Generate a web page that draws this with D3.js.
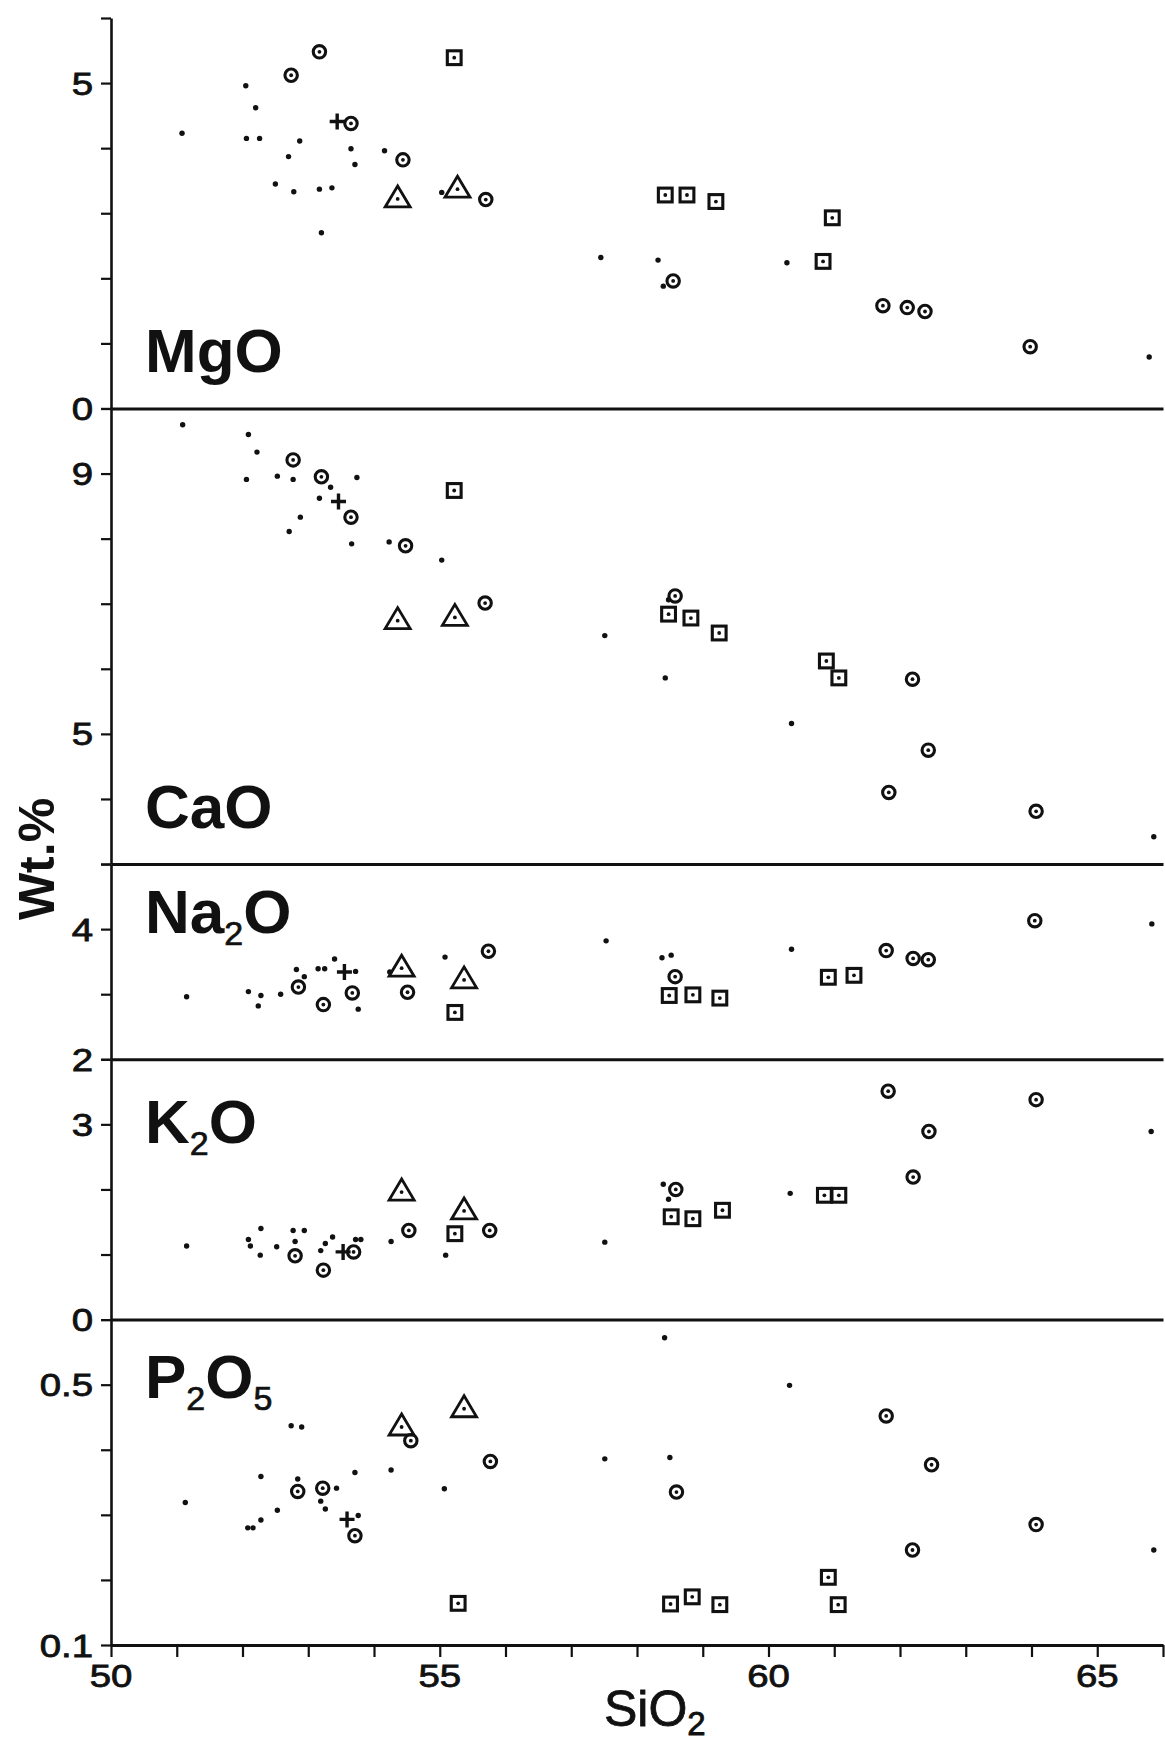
<!DOCTYPE html>
<html>
<head>
<meta charset="utf-8">
<script src="https://cdnjs.cloudflare.com/ajax/libs/d3/7.8.5/d3.min.js"></script>
<style>
  body { margin: 0; background: #fff; }
  svg { display: block; font-family: 'Liberation Sans', Arial, Helvetica, sans-serif; }
</style>
</head>
<body>
<svg id="chart" width="1165" height="1742"></svg>
<script>
// SiO2 axis
const sio2Domain = [50, 66]
const sio2Labels = [50, 55, 60, 65]

// oxide panels, top to bottom
const oxides = ['MgO', 'CaO', 'Na2O', 'K2O', 'P2O5']
const oxideDomains = [[0, 6], [3, 10], [2, 5], [0, 4], [0.1, 0.6]]
const oxideSteps = [1, 1, 1, 1, 0.1]
const oxideLabels = [[0, 5], [5, 9], [2, 4], [0, 3], [0.1, 0.5]]

// samples per panel: [SiO2, oxide wt.%, symbol]
const mgo = [
  [51.08, 4.23, 'dot'], [52.05, 4.96, 'dot'], [52.2, 4.62, 'dot'], [52.06, 4.15, 'dot'],
  [52.26, 4.15, 'dot'], [52.87, 4.11, 'dot'], [52.7, 3.87, 'dot'], [52.5, 3.45, 'dot'],
  [52.78, 3.33, 'dot'], [53.17, 3.37, 'dot'], [53.36, 3.39, 'dot'], [53.2, 2.7, 'dot'],
  [53.65, 3.99, 'dot'], [53.71, 3.75, 'dot'], [54.16, 3.96, 'dot'], [55.03, 3.32, 'dot'],
  [57.45, 2.32, 'dot'], [58.32, 2.28, 'dot'], [60.28, 2.24, 'dot'], [58.4, 1.88, 'dot'],
  [65.79, 0.79, 'dot'],
  [53.17, 5.48, 'circle'], [52.74, 5.12, 'circle'], [53.65, 4.38, 'circle'], [54.44, 3.82, 'circle'],
  [55.7, 3.21, 'circle'], [58.55, 1.96, 'circle'], [61.74, 1.58, 'circle'], [62.11, 1.55, 'circle'],
  [62.38, 1.49, 'circle'], [63.98, 0.95, 'circle'],
  [55.22, 5.39, 'square'], [58.43, 3.28, 'square'], [58.76, 3.28, 'square'], [59.2, 3.18, 'square'],
  [60.97, 2.93, 'square'], [60.83, 2.26, 'square'],
  [54.36, 3.22, 'triangle'], [55.27, 3.37, 'triangle'],
  [53.44, 4.41, 'plus'],
]
const cao = [
  [51.09, 9.75, 'dot'], [52.09, 9.6, 'dot'], [52.22, 9.33, 'dot'], [52.06, 8.91, 'dot'],
  [52.53, 8.96, 'dot'], [52.77, 8.91, 'dot'], [53.34, 8.79, 'dot'], [53.17, 8.62, 'dot'],
  [52.88, 8.33, 'dot'], [52.71, 8.11, 'dot'], [53.74, 8.94, 'dot'], [53.66, 7.92, 'dot'],
  [54.23, 7.95, 'dot'], [55.03, 7.67, 'dot'], [58.48, 7.06, 'dot'], [57.51, 6.51, 'dot'],
  [58.43, 5.86, 'dot'], [60.35, 5.16, 'dot'], [65.86, 3.42, 'dot'],
  [52.77, 9.21, 'circle'], [53.2, 8.95, 'circle'], [53.65, 8.33, 'circle'], [54.48, 7.89, 'circle'],
  [55.69, 7.01, 'circle'], [58.58, 7.12, 'circle'], [62.19, 5.84, 'circle'], [62.43, 4.75, 'circle'],
  [61.83, 4.1, 'circle'], [64.07, 3.81, 'circle'],
  [55.22, 8.74, 'square'], [58.48, 6.84, 'square'], [58.82, 6.78, 'square'], [59.25, 6.55, 'square'],
  [60.88, 6.12, 'square'], [61.07, 5.86, 'square'],
  [54.36, 6.74, 'triangle'], [55.23, 6.79, 'triangle'],
  [53.46, 8.57, 'plus'],
]
const na2o = [
  [51.15, 2.96, 'dot'], [52.09, 3.04, 'dot'], [52.28, 2.98, 'dot'], [52.24, 2.82, 'dot'],
  [52.58, 3.0, 'dot'], [52.82, 3.38, 'dot'], [52.94, 3.27, 'dot'], [53.15, 3.39, 'dot'],
  [53.25, 3.39, 'dot'], [53.4, 3.54, 'dot'], [53.72, 3.35, 'dot'], [53.76, 2.77, 'dot'],
  [54.24, 3.34, 'dot'], [55.08, 3.57, 'dot'], [57.53, 3.82, 'dot'], [58.38, 3.56, 'dot'],
  [58.52, 3.6, 'dot'], [60.35, 3.69, 'dot'], [65.83, 4.08, 'dot'],
  [52.85, 3.11, 'circle'], [53.23, 2.84, 'circle'], [53.67, 3.02, 'circle'], [54.51, 3.03, 'circle'],
  [55.74, 3.66, 'circle'], [58.58, 3.27, 'circle'], [61.79, 3.67, 'circle'], [62.2, 3.55, 'circle'],
  [62.43, 3.53, 'circle'], [64.05, 4.13, 'circle'],
  [55.23, 2.72, 'square'], [58.49, 2.98, 'square'], [58.85, 2.99, 'square'], [59.26, 2.94, 'square'],
  [60.91, 3.26, 'square'], [61.3, 3.29, 'square'],
  [54.42, 3.4, 'triangle'], [55.37, 3.22, 'triangle'],
  [53.55, 3.34, 'plus'],
]
const k2o = [
  [51.15, 1.13, 'dot'], [52.09, 1.23, 'dot'], [52.12, 1.13, 'dot'], [52.28, 1.4, 'dot'],
  [52.27, 0.99, 'dot'], [52.52, 1.12, 'dot'], [52.77, 1.37, 'dot'], [52.94, 1.37, 'dot'],
  [52.8, 1.2, 'dot'], [53.19, 1.06, 'dot'], [53.26, 1.17, 'dot'], [53.37, 1.27, 'dot'],
  [53.72, 1.23, 'dot'], [53.8, 1.23, 'dot'], [54.26, 1.2, 'dot'], [55.09, 0.99, 'dot'],
  [57.51, 1.19, 'dot'], [58.4, 2.08, 'dot'], [58.48, 1.85, 'dot'], [60.33, 1.94, 'dot'],
  [65.82, 2.89, 'dot'],
  [52.8, 0.98, 'circle'], [53.23, 0.76, 'circle'], [53.69, 1.04, 'circle'], [54.53, 1.37, 'circle'],
  [55.76, 1.37, 'circle'], [58.59, 2.0, 'circle'], [61.82, 3.51, 'circle'], [64.07, 3.38, 'circle'],
  [62.44, 2.89, 'circle'], [62.2, 2.19, 'circle'],
  [55.23, 1.32, 'square'], [58.52, 1.58, 'square'], [58.85, 1.55, 'square'], [59.3, 1.68, 'square'],
  [60.85, 1.91, 'square'], [61.07, 1.91, 'square'],
  [54.42, 1.96, 'triangle'], [55.37, 1.67, 'triangle'],
  [53.53, 1.04, 'plus'],
]
const p2o5 = [
  [51.13, 0.319, 'dot'], [52.28, 0.359, 'dot'], [52.53, 0.307, 'dot'], [52.28, 0.292, 'dot'],
  [52.08, 0.28, 'dot'], [52.16, 0.28, 'dot'], [52.74, 0.437, 'dot'], [52.9, 0.435, 'dot'],
  [52.84, 0.355, 'dot'], [53.19, 0.321, 'dot'], [53.26, 0.309, 'dot'], [53.43, 0.341, 'dot'],
  [53.76, 0.299, 'dot'], [53.71, 0.365, 'dot'], [54.26, 0.369, 'dot'], [55.07, 0.34, 'dot'],
  [58.42, 0.572, 'dot'], [60.32, 0.499, 'dot'], [57.51, 0.386, 'dot'], [58.5, 0.388, 'dot'],
  [65.86, 0.246, 'dot'],
  [52.84, 0.336, 'circle'], [53.22, 0.341, 'circle'], [53.71, 0.268, 'circle'], [54.56, 0.414, 'circle'],
  [55.77, 0.382, 'circle'], [61.79, 0.452, 'circle'], [58.6, 0.335, 'circle'], [62.48, 0.377, 'circle'],
  [64.07, 0.285, 'circle'], [62.19, 0.246, 'circle'],
  [55.28, 0.164, 'square'], [60.91, 0.204, 'square'], [58.51, 0.163, 'square'], [58.84, 0.174, 'square'],
  [59.26, 0.162, 'square'], [61.06, 0.162, 'square'],
  [54.42, 0.435, 'triangle'], [55.37, 0.463, 'triangle'],
  [53.59, 0.293, 'plus'],
]
const samples = [mgo, cao, na2o, k2o, p2o5]

// layout
const plotLeft = 111, plotRight = 1163, plotTop = 18, plotBottom = 1645
const labelBaseline = [372, 828, 933, 1143, 1398]
const ink = '#111'

const svg = d3.select('#chart')
svg.append('rect').attr('width', 1165).attr('height', 1742).attr('fill', '#fff')

let units = d3.sum(oxideDomains, function(d, i) {
  return Math.round((d[1] - d[0]) / oxideSteps[i])
})
let unit = (plotBottom - plotTop) / units

let x = d3.scaleLinear().domain(sio2Domain).range([plotLeft, plotRight])

// formula text with subscript digits
function formula(sel, str, big, small, weight, drop) {
  let shift = 0
  str.split(/(\d+)/).filter(function(s) { return s }).forEach(function(part) {
    let sub = /\d/.test(part)
    let dy = (sub ? drop : 0) - shift
    shift = sub ? drop : 0
    sel.append('tspan')
      .attr('dy', dy)
      .style('font-size', (sub ? small : big) + 'px')
      .style('font-weight', sub ? 'normal' : weight)
      .text(part)
  })
}

function drawMark(g, sym) {
  if (sym === 'dot') {
    g.append('circle').attr('r', 2.7).attr('fill', ink).attr('stroke', 'none')
    return
  }
  if (sym === 'circle') {
    g.append('circle').attr('r', 6.2)
  } else if (sym === 'square') {
    g.append('rect').attr('x', -6.9).attr('y', -6.9).attr('width', 13.8).attr('height', 13.8)
  } else if (sym === 'triangle') {
    g.append('path').attr('d', 'M0,-13L12.5,8L-12.5,8Z').attr('stroke-width', 2.8)
  } else if (sym === 'plus') {
    g.append('path').attr('d', 'M-7.5,0H7.5M0,-8V8').attr('stroke-width', 3.4)
    return
  }
  g.append('circle').attr('r', 1.9).attr('fill', ink).attr('stroke', 'none')
}

let y0 = plotTop
oxides.forEach(function(name, i) {
  let lo = oxideDomains[i][0], hi = oxideDomains[i][1], step = oxideSteps[i]
  let n = Math.round((hi - lo) / step)
  let y1 = y0 + n * unit
  let y = d3.scaleLinear().domain([lo, hi]).range([y1, y0])
  let ticks = d3.range(n + 1).map(function(k) { return +(lo + k * step).toFixed(2) })

  let panel = svg.append('g').attr('class', 'panel')

  // left axis with ticks
  let ax = panel.append('g')
    .attr('transform', 'translate(' + plotLeft + ',0)')
    .call(d3.axisLeft(y).tickValues(ticks).tickSize(10).tickSizeOuter(0).tickFormat(''))
  ax.select('.domain').attr('stroke', ink).attr('stroke-width', 2.6)
  ax.selectAll('.tick line').attr('stroke', ink).attr('stroke-width', 2.2)

  // tick labels (wide digits)
  panel.selectAll('text.ylab')
    .data(oxideLabels[i])
    .join('text')
    .attr('class', 'ylab')
    .attr('transform', function(d) { return 'translate(93,' + y(d) + ') scale(1.2,1)' })
    .attr('dy', '0.36em')
    .attr('text-anchor', 'end')
    .style('font-size', '32px')
    .attr('fill', ink)
    .attr('stroke', ink)
    .attr('stroke-width', 0.8)
    .text(function(d) { return d })

  // panel base line (x axis for the last panel)
  let isLast = i === oxides.length - 1
  let bx = panel.append('g')
    .attr('transform', 'translate(0,' + y1 + ')')
    .call(d3.axisBottom(x)
      .tickValues(isLast ? d3.range(sio2Domain[0], sio2Domain[1] + 1) : [])
      .tickSize(isLast ? 12 : 0)
      .tickSizeOuter(0)
      .tickFormat(''))
  bx.select('.domain').attr('stroke', ink).attr('stroke-width', 3)
  bx.selectAll('.tick line').attr('stroke', ink).attr('stroke-width', 2.2)

  // panel name
  let lab = panel.append('text')
    .attr('x', 145)
    .attr('y', labelBaseline[i])
    .attr('fill', ink)
  formula(lab, name, 62, 34, 'bold', 12)
  lab.selectAll('tspan').filter(function() { return /\d/.test(this.textContent) })
    .attr('stroke', ink).attr('stroke-width', 0.7)

  // samples
  panel.append('g')
    .selectAll('g.pt')
    .data(samples[i])
    .join('g')
    .attr('class', 'pt')
    .attr('transform', function(d) { return 'translate(' + x(d[0]) + ',' + y(d[1]) + ')' })
    .attr('fill', 'none')
    .attr('stroke', ink)
    .attr('stroke-width', 3.1)
    .each(function(d) { drawMark(d3.select(this), d[2]) })

  y0 = y1
})

// SiO2 tick labels
svg.selectAll('text.xlab')
  .data(sio2Labels)
  .join('text')
  .attr('class', 'xlab')
  .attr('transform', function(d) { return 'translate(' + x(d) + ',1687) scale(1.2,1)' })
  .attr('text-anchor', 'middle')
  .style('font-size', '32px')
  .attr('fill', ink)
  .attr('stroke', ink)
  .attr('stroke-width', 0.8)
  .text(function(d) { return d })

// axis titles
let xt = svg.append('text')
  .attr('x', 604)
  .attr('y', 1726)
  .attr('fill', ink)
  .attr('stroke', ink)
  .attr('stroke-width', 0.8)
formula(xt, 'SiO2', 50, 33, 'normal', 9)

svg.append('text')
  .attr('transform', 'translate(54,859) rotate(-90)')
  .attr('text-anchor', 'middle')
  .style('font-size', '50px')
  .style('font-weight', 'bold')
  .attr('fill', ink)
  .text('Wt.%')
</script>
</body>
</html>
